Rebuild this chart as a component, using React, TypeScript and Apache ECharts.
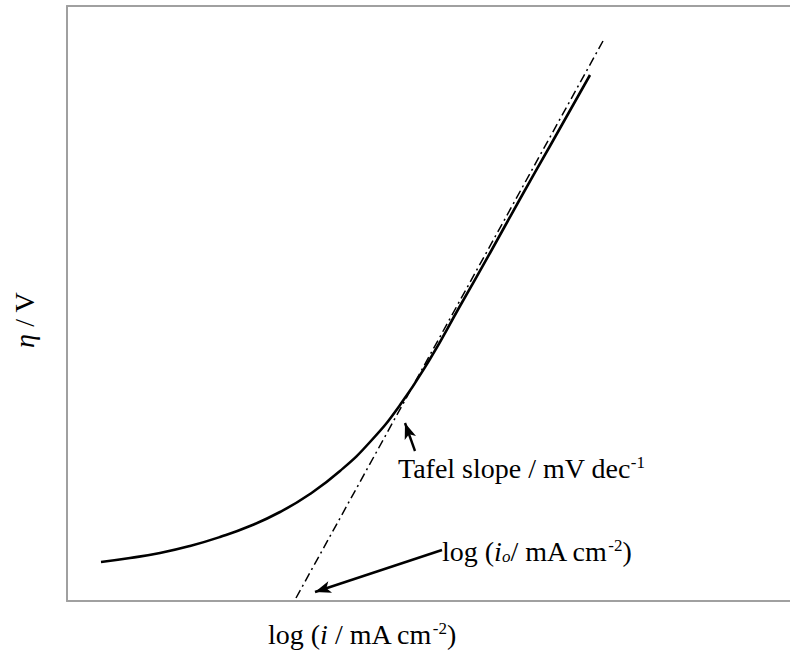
import React, { useEffect, useRef } from "react";
import * as echarts from "echarts";

// Arbitrary units: x = log i, y = η (no tick values shown in the reference)
const curveX = [0.34, 0.63, 0.93, 1.23, 1.53, 1.83, 2.13, 2.43, 2.73, 3.03, 3.33, 3.63, 3.93, 4.23, 4.53, 4.83, 5.23];
const curveY = [0.39, 0.43, 0.48, 0.55, 0.64, 0.75, 0.89, 1.07, 1.3, 1.59, 1.96, 2.42, 2.95, 3.48, 4.02, 4.55, 5.26];
const tafelX = [2.29, 5.36];
const tafelY = [0.03, 5.6];
// arrows: [tailX, tailY, headX, headY]
const arrowTafel = [3.48, 1.5, 3.38, 1.78];
const arrowIo = [3.75, 0.51, 2.48, 0.09];

const FONT = "'Liberation Serif', 'Times New Roman', serif";
const FRAME = "#a0a0a0";

export default function App() {
  const ref = useRef<HTMLDivElement>(null);
  useEffect(() => {
    if (!ref.current) return;
    const chart = echarts.init(ref.current, null, { renderer: "svg" });
    const curve = curveX.map((x, i) => [x, curveY[i]]);
    const tafel = tafelX.map((x, i) => [x, tafelY[i]]);
    const arrow = (a: number[]) => [
      { coord: [a[0], a[1]], symbol: "none" },
      { coord: [a[2], a[3]], symbol: "arrow", symbolSize: [9, 16] },
    ];
    const base = { fontFamily: FONT, fontSize: 28, color: "#111" };
    const rich = {
      n: { ...base },
      i: { ...base, fontStyle: "italic" },
      s: { ...base, fontSize: 17, verticalAlign: "top" },
      b: { ...base, fontSize: 17, fontStyle: "italic", verticalAlign: "bottom" },
    };
    const hiddenAxis = {
      type: "value",
      axisTick: { show: false },
      axisLabel: { show: false },
      splitLine: { show: false },
    };
    chart.setOption({
      animation: false,
      backgroundColor: "#fff",
      grid: { left: 67, top: 6, right: 0, bottom: 63 },
      xAxis: [
        {
          ...hiddenAxis,
          min: 0,
          max: 7.23,
          position: "bottom",
          axisLine: { show: true, lineStyle: { color: FRAME, width: 2 } },
        },
        {
          ...hiddenAxis,
          min: 0,
          max: 7.23,
          position: "top",
          axisLine: { show: true, lineStyle: { color: FRAME, width: 2 } },
        },
      ],
      yAxis: {
        ...hiddenAxis,
        min: 0,
        max: 5.95,
        axisLine: { show: true, onZero: false, lineStyle: { color: FRAME, width: 2 } },
      },
      series: [
        {
          type: "line",
          data: curve,
          smooth: true,
          symbol: "none",
          lineStyle: { color: "#000", width: 2.6 },
          z: 3,
        },
        {
          type: "line",
          data: tafel,
          symbol: "none",
          lineStyle: { color: "#000", width: 1.5, type: [9, 4, 2, 4] },
          z: 2,
          markLine: {
            silent: true,
            animation: false,
            label: { show: false },
            lineStyle: { color: "#000", width: 2.4, type: "solid" },
            data: [arrow(arrowTafel), arrow(arrowIo)],
          },
        },
      ],
      graphic: [
        {
          type: "text",
          left: 398,
          top: 454,
          style: { text: "{n|Tafel slope / mV dec}{s|-1}", rich },
        },
        {
          type: "text",
          left: 442,
          top: 537,
          style: { text: "{n|log (}{i|i}{b|o}{n|/ mA cm}{s|-2}{n|)}", rich },
        },
        {
          type: "text",
          left: 268,
          top: 620,
          style: { text: "{n|log (}{i|i}{n| / mA cm}{s|-2}{n|)}", rich },
        },
        {
          type: "text",
          x: 24,
          y: 320,
          rotation: Math.PI / 2,
          style: {
            text: "{i|η}{n| / V}",
            rich,
            align: "center",
            verticalAlign: "middle",
          },
        },
      ],
    });
    return () => chart.dispose();
  }, []);
  return (
    <div
      ref={ref}
      style={{ position: "absolute", left: 0, top: 0, width: 790, height: 664 }}
    />
  );
}
